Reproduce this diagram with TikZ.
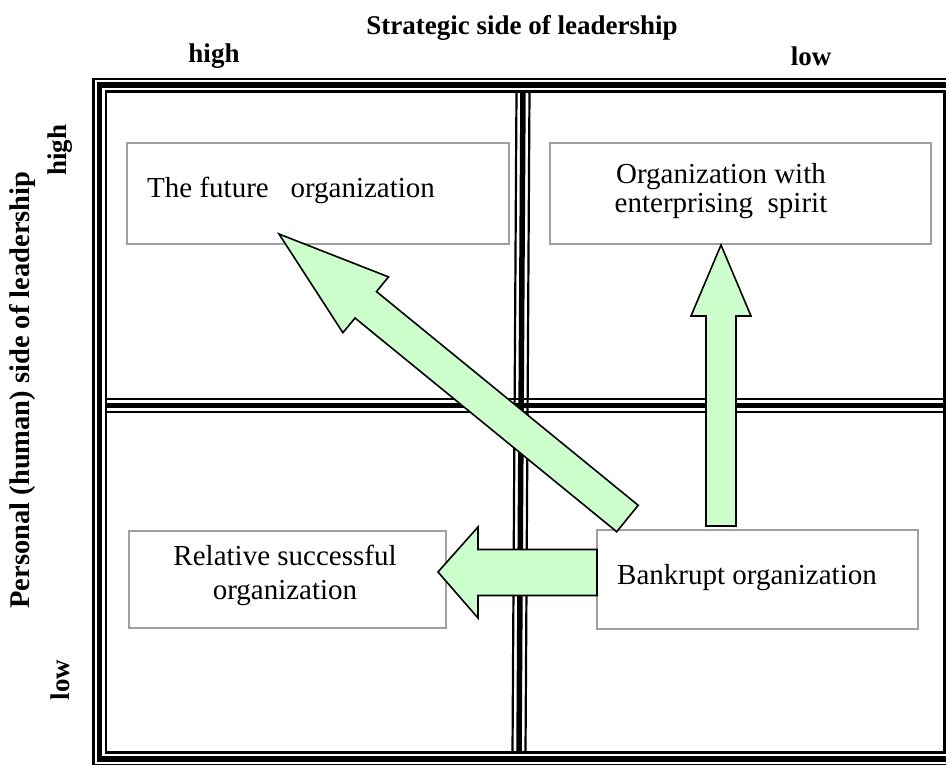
\documentclass[tikz,border=0pt]{standalone}
\usepackage{fontspec}
\setmainfont{Liberation Serif}
\definecolor{arrowgreen}{HTML}{CCFFCC}
\definecolor{boxgray}{HTML}{A0A0A0}
\tikzset{
  thinln/.style={line width=2.2pt},
  thickln/.style={line width=5.5pt},
  qbox/.style={draw=boxgray, line width=1.5pt, fill=white, inner sep=0pt, anchor=north west},
  blockarrow/.style={draw=black, line width=1.6pt, fill=arrowgreen, line join=miter},
  boxtext/.style={font=\fontsize{29}{29}\selectfont, inner sep=0pt, align=center},
  axislabel/.style={font=\fontsize{27}{30}\selectfont\bfseries, inner sep=0pt},
}
\begin{document}
\begin{tikzpicture}[x=1pt,y=-1pt]
\clip (0,0) rectangle (946,764);
\fill[white] (0,0) rectangle (946,764);
% frame (thin-thick-thin)
\draw[thinln] (93.5,79) rectangle (957,765);
\draw[thickln] (99.5,85) rectangle (951,759);
\draw[thinln] (106,91.5) rectangle (944.5,752.5);
% horizontal divider
\draw[thinln] (106,399) -- (944.5,399);
\draw[thickln] (106,405.5) -- (944.5,405.5);
\draw[thinln] (106,412) -- (944.5,412);
% vertical divider
\draw[thinln] (516.5,91.5) -- (512.5,752.5);
\draw[thickln] (523,91.5) -- (519,752.5);
\draw[thinln] (529.5,91.5) -- (525.5,752.5);
% headers
\node[axislabel] (title) at (522,28) {Strategic side of leadership};
\node[axislabel] (hhigh) at (214,56) {high};
\node[axislabel] (hlow) at (811,56) {low};
\node[axislabel, font=\fontsize{28.5}{30}\selectfont\bfseries, rotate=90] (vtitle) at (22,390) {Personal (human) side of leadership};
\node[axislabel, rotate=90] (vhigh) at (60,150) {high};
\node[axislabel, rotate=90] (vlow) at (60,680) {low};
% boxes
\node[qbox, minimum width=382pt, minimum height=101pt] (future) at (126,142) {};
\node[qbox, minimum width=381pt, minimum height=101pt] (enterp) at (549,142) {};
\node[qbox, minimum width=317pt, minimum height=97pt] (relat) at (128,530) {};
\node[qbox, minimum width=321pt, minimum height=99pt] (bankr) at (596,529) {};
\node[boxtext, anchor=west] (tfuture) at (147,190) {The future\ \ \ organization};
\node[boxtext] (tenterp) at (721,191) {Organization with\\enterprising\ \ spirit};
\node[boxtext, font=\fontsize{29}{34}\selectfont] (trelat) at (285,575) {Relative successful\\organization};
\node[boxtext, anchor=west] (tbankr) at (617,578) {Bankrupt organization};
% block arrows
\draw[blockarrow] (438,572) -- (478,527) -- (478,549.5) -- (597,549.5) -- (597,595.5) -- (478,595.5) -- (478,618) -- cycle;
\draw[blockarrow] (721,245) -- (751,316) -- (736,316) -- (736,526) -- (706,526) -- (706,316) -- (691,316) -- cycle;
\draw[blockarrow] (279,234) -- (388.5,276.9) -- (376.5,291.6) -- (638.2,505.3) -- (616.7,531.7) -- (355.0,318.0) -- (342.9,332.7) -- cycle;
\end{tikzpicture}
\end{document}
